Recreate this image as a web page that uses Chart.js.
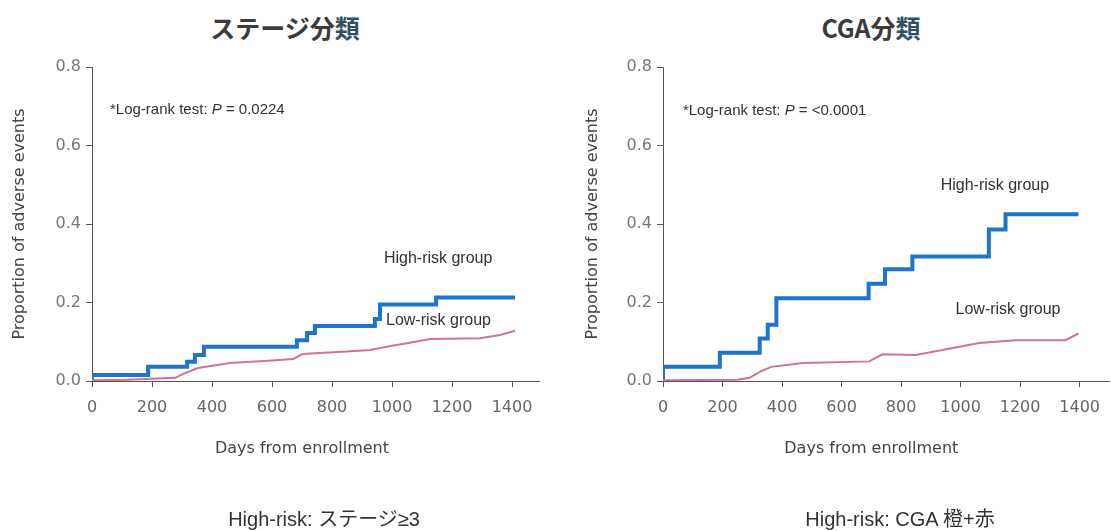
<!DOCTYPE html>
<html>
<head>
<meta charset="utf-8">
<script src="https://cdn.jsdelivr.net/npm/chart.js@4"></script>
<style>
  body { margin: 0; background: #fff; width: 1111px; height: 531px; position: relative; overflow: hidden; }
  canvas { position: absolute; top: 0; }
  .title { position: absolute; top: 9px; font: bold 25px "Noto Sans CJK JP", sans-serif; color: #3b3b3b; transform: translateX(-50%); white-space: nowrap; }
  .title span { color: #2f4f63; }
  .caption { position: absolute; top: 503px; font: 20px "Liberation Sans", "Noto Sans CJK JP", sans-serif; color: #333; transform: translateX(-50%); white-space: nowrap; }
</style>
</head>
<body>
<div class="title" style="left:285px">ステージ分<span>類</span></div>
<div class="title" style="left:871px">CGA分<span>類</span></div>
<canvas id="stageChart" width="555" height="531" style="left:0"></canvas>
<canvas id="cgaChart" width="556" height="531" style="left:555px"></canvas>
<div class="caption" style="left:324px">High-risk: ステージ≥3</div>
<div class="caption" style="left:900px">High-risk: CGA 橙+赤</div>
<script>
// ステージ分類
const stageHighDays = [0, 0, 187, 317, 343, 373, 683, 717, 743, 943, 960, 1147, 1410];
const stageHighRisk = [0, 0.015, 0.036, 0.049, 0.066, 0.087, 0.104, 0.122, 0.14, 0.158, 0.195, 0.213, 0.213];
const stageLowDays = [0, 117, 277, 310, 353, 460, 600, 670, 700, 727, 850, 927, 1000, 1050, 1127, 1293, 1360, 1410];
const stageLowRisk = [0.002, 0.003, 0.008, 0.02, 0.033, 0.046, 0.052, 0.056, 0.068, 0.07, 0.075, 0.079, 0.09, 0.096, 0.107, 0.109, 0.117, 0.128];

// CGA分類
const cgaHighDays = [0, 0, 191, 325, 352, 381, 691, 746, 838, 1095, 1151, 1396];
const cgaHighRisk = [0, 0.036, 0.072, 0.108, 0.143, 0.211, 0.248, 0.285, 0.317, 0.386, 0.425, 0.425];
const cgaLowDays = [0, 250, 291, 330, 364, 470, 693, 737, 850, 961, 1062, 1184, 1352, 1396];
const cgaLowRisk = [0.002, 0.003, 0.008, 0.025, 0.036, 0.046, 0.05, 0.068, 0.066, 0.082, 0.097, 0.104, 0.104, 0.121];

const xTicks = [0, 200, 400, 600, 800, 1000, 1200, 1400];
const yTicks = [0, 0.2, 0.4, 0.6, 0.8];

const toPoints = (xs, ys) => xs.map((x, i) => ({ x: x, y: ys[i] }));

function textPlugin(opts) {
  return {
    id: "texts",
    afterDraw(chart) {
      const ctx = chart.ctx;
      const xs = chart.scales.x, ys = chart.scales.y;
      ctx.save();
      ctx.fillStyle = "#444";
      // axis titles
      ctx.font = "16px 'DejaVu Sans'";
      ctx.textAlign = "center";
      ctx.textBaseline = "middle";
      ctx.fillText("Days from enrollment", (xs.getPixelForValue(0) + xs.getPixelForValue(1400)) / 2, 449);
      ctx.save();
      ctx.translate(opts.yTitleX, (ys.top + ys.bottom) / 2);
      ctx.rotate(-Math.PI / 2);
      ctx.fillText("Proportion of adverse events", 0, 0);
      ctx.restore();

      // log-rank text
      ctx.fillStyle = "#333";
      ctx.textAlign = "left";
      let x = xs.getPixelForValue(opts.logRank[0]);
      const y = ys.getPixelForValue(opts.logRank[1]);
      const parts = [["*Log-rank test: ", "15px 'Liberation Sans'"], ["P", "italic 15px 'Liberation Sans'"], [" = " + opts.pValue, "15px 'Liberation Sans'"]];
      parts.forEach(p => {
        ctx.font = p[1];
        ctx.fillText(p[0], x, y);
        x += ctx.measureText(p[0]).width;
      });

      // group labels
      ctx.font = "16px 'Liberation Sans'";
      ctx.fillText("High-risk group", xs.getPixelForValue(opts.high[0]), ys.getPixelForValue(opts.high[1]));
      ctx.fillText("Low-risk group", xs.getPixelForValue(opts.low[0]), ys.getPixelForValue(opts.low[1]));
      ctx.restore();
    }
  };
}

function makeChart(id, highPts, lowPts, cfg) {
  return new Chart(document.getElementById(id).getContext("2d"), {
    type: "line",
    data: {
      datasets: [
        {
          label: "Low-risk group",
          data: lowPts,
          borderColor: "#d4709a",
          borderWidth: 2,
          pointRadius: 0,
          tension: 0
        },
        {
          label: "High-risk group",
          data: highPts,
          borderColor: "#1f74cc",
          borderWidth: 4,
          pointRadius: 0,
          stepped: "before"
        }
      ]
    },
    options: {
      responsive: false,
      animation: false,
      layout: { padding: { top: 67, right: cfg.padRight, left: 0, bottom: 0 } },
      plugins: { legend: { display: false }, tooltip: { enabled: false } },
      scales: {
        x: {
          type: "linear",
          min: 0,
          max: cfg.xMax,
          afterFit: s => { s.height = 150; },
          afterBuildTicks: s => { s.ticks = xTicks.map(v => ({ value: v })); },
          border: { color: "#555", width: 1 },
          grid: { drawOnChartArea: false, tickLength: 6, color: "#555" },
          ticks: { padding: 11, color: "#666", font: { family: "DejaVu Sans", size: 16 }, maxRotation: 0, callback: v => String(v) }
        },
        y: {
          min: 0,
          max: 0.8,
          afterFit: s => { s.width = cfg.yWidth; },
          afterBuildTicks: s => { s.ticks = yTicks.map(v => ({ value: v })); },
          border: { color: "#555", width: 1 },
          grid: { drawOnChartArea: false, tickLength: 6, color: "#555" },
          ticks: { padding: 5, color: "#777", font: { family: "DejaVu Sans", size: 16 }, callback: v => v.toFixed(1) }
        }
      }
    },
    plugins: [textPlugin(cfg)]
  });
}

makeChart("stageChart", toPoints(stageHighDays, stageHighRisk), toPoints(stageLowDays, stageLowRisk), {
  xMax: 1490, padRight: 16, yWidth: 92, yTitleX: 20,
  logRank: [60, 0.69], pValue: "0.0224",
  high: [973, 0.313], low: [980, 0.155]
});

makeChart("cgaChart", toPoints(cgaHighDays, cgaHighRisk), toPoints(cgaLowDays, cgaLowRisk), {
  xMax: 1500, padRight: 0, yWidth: 108, yTitleX: 38,
  logRank: [67, 0.688], pValue: "<0.0001",
  high: [933, 0.499], low: [983, 0.181]
});
</script>
</body>
</html>
